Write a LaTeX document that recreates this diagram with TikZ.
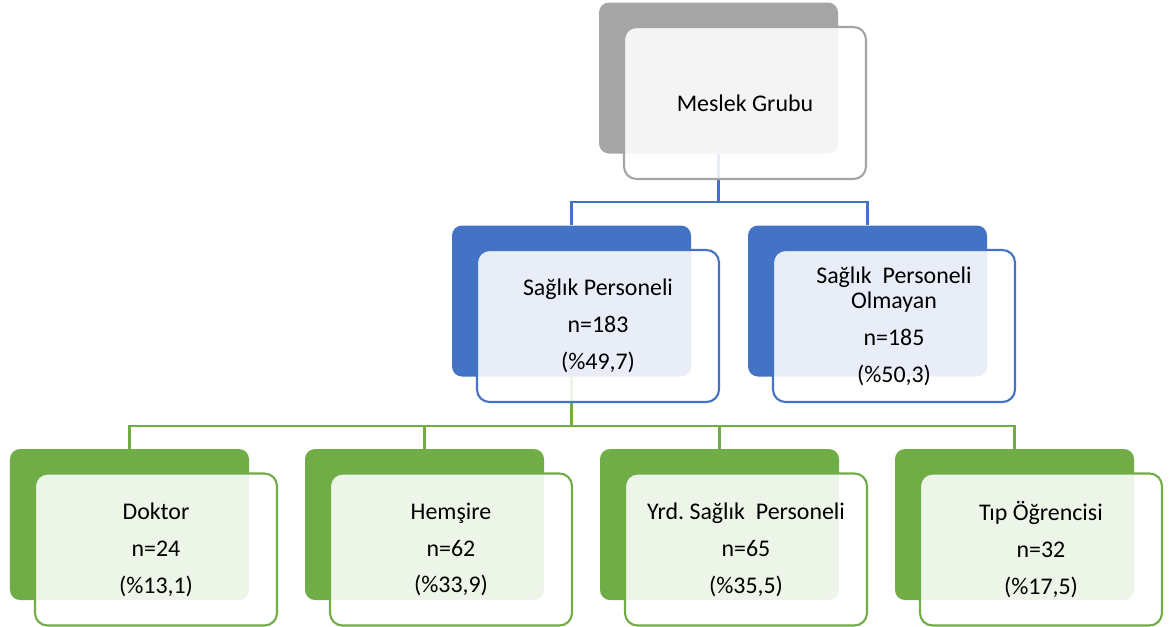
\documentclass[tikz,border=0pt]{standalone}
\usepackage{fontspec}
\setmainfont{Carlito}
\usepackage{tikz}
\usetikzlibrary{calc}
\definecolor{grayback}{HTML}{A5A5A5}
\definecolor{blueback}{HTML}{4472C4}
\definecolor{greenback}{HTML}{70AD47}
\frenchspacing
\tikzset{
  backbox/.style={rectangle, rounded corners=0.2cm, minimum width=4.78cm, minimum height=3.02cm, fill=#1, draw=none},
  frontbox/.style={rectangle, rounded corners=0.25cm, minimum width=4.84cm, minimum height=3.04cm,
    draw=#1, line width=1.2pt, fill=white, fill opacity=0.88, text opacity=1, align=center,
    font=\fontsize{13.6}{14.5}\selectfont},
  conn/.style={draw=#1, line width=1.4pt}
}
\begin{document}
\begin{tikzpicture}
\useasboundingbox (0,0) rectangle (23.46,-12.52);
% back boxes
\node[backbox=grayback] (b0) at (14.37,-1.56) {};
\node[backbox=blueback] (b1) at (11.43,-6.02) {};
\node[backbox=blueback] (b2) at (17.35,-6.02) {};
\node[backbox=greenback] (c1) at (2.59,-10.49) {};
\node[backbox=greenback] (c2) at (8.49,-10.49) {};
\node[backbox=greenback] (c3) at (14.39,-10.49) {};
\node[backbox=greenback] (c4) at (20.29,-10.49) {};
% connectors
\draw[conn=blueback] (b0.south) -- ++(0,-0.96) coordinate (j0);
\draw[conn=blueback] (j0) -| (b1.north);
\draw[conn=blueback] (j0) -| (b2.north);
\draw[conn=greenback] (b1.south) -- ++(0,-0.98) coordinate (j1);
\draw[conn=greenback] (j1) -| (c1.north);
\draw[conn=greenback] (j1) -| (c2.north);
\draw[conn=greenback] (j1) -| (c3.north);
\draw[conn=greenback] (j1) -| (c4.north);
% front boxes
\node[frontbox=grayback] (f0) at ([shift={(0.53,-0.5)}]b0.center) {Meslek Grubu};
\node[frontbox=blueback] (f1) at ([shift={(0.53,-0.5)}]b1.center) {Sağlık Personeli\\[6.5pt]n=183\\[6.5pt](\%49,7)};
\node[frontbox=blueback] (f2) at ([shift={(0.53,-0.5)}]b2.center) {Sağlık\ \ Personeli\\Olmayan\\[6.5pt]n=185\\[6.5pt](\%50,3)};
\node[frontbox=greenback] (g1) at ([shift={(0.53,-0.5)}]c1.center) {Doktor\\[6.5pt]n=24\\[6.5pt](\%13,1)};
\node[frontbox=greenback] (g2) at ([shift={(0.53,-0.5)}]c2.center) {Hemşire\\[6.5pt]n=62\\[6.5pt](\%33,9)};
\node[frontbox=greenback] (g3) at ([shift={(0.53,-0.5)}]c3.center) {Yrd. Sağlık\ \ Personeli\\[6.5pt]n=65\\[6.5pt](\%35,5)};
\node[frontbox=greenback] (g4) at ([shift={(0.53,-0.5)}]c4.center) {Tıp Öğrencisi\\[6.5pt]n=32\\[6.5pt](\%17,5)};
\end{tikzpicture}
\end{document}
